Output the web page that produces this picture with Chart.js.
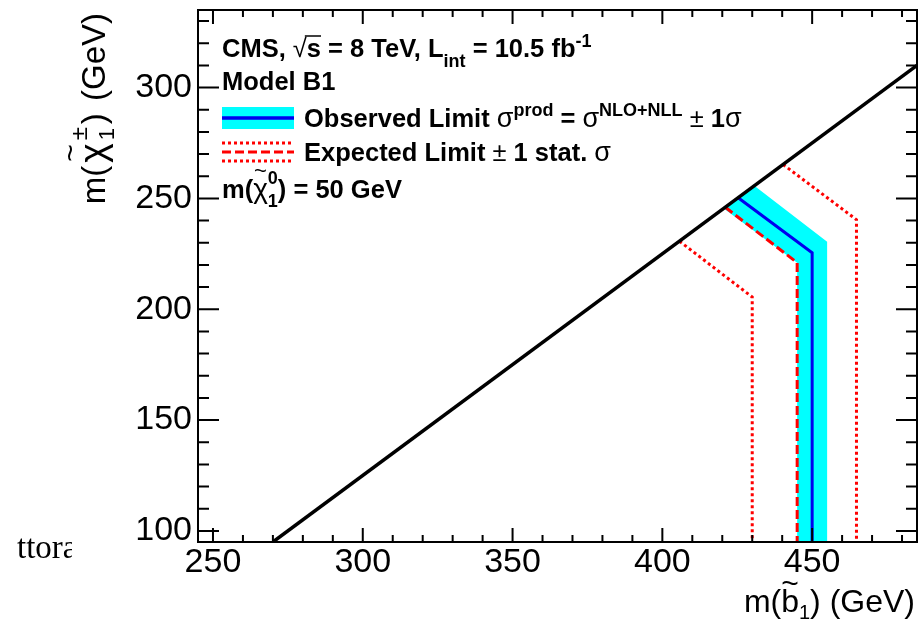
<!DOCTYPE html>
<html>
<head>
<meta charset="utf-8">
<script src="https://cdn.jsdelivr.net/npm/chart.js@4.4.0/dist/chart.umd.min.js"></script>
<style>
  html, body { margin: 0; padding: 0; background: #fff; overflow: hidden; }
</style>
</head>
<body>
<canvas id="c" width="918" height="627"></canvas>
<script>
// axis ranges and tick labels
const xRange = [245, 485];
const yRange = [95, 335];
const xTicks = [250, 300, 350, 400, 450];
const yTicks = [100, 150, 200, 250, 300];

// kinematic limit m(b1) = m(chi1+-) + m(t)
const kinX = [270, 485];
const kinY = [95, 310];
// observed limit
const obsX = [425.3, 450, 450];
const obsY = [250.3, 225.5, 94];
// observed +-1 sigma band (closed outline)
const bandX = [420.5, 445, 445, 455, 455, 430.7];
const bandY = [245.5, 221, 94, 94, 230.5, 255.7];
// expected limit and +-1 stat. sigma
const expX = [421, 445, 445];
const expY = [246, 221, 94];
const expUpX = [440.3, 464.8, 464.8];
const expUpY = [265.3, 240.4, 94];
const expDnX = [405.7, 430, 430];
const expDnY = [230.7, 205.5, 94];

function pts(xs, ys) {
  return xs.map((x, i) => ({x: x, y: ys[i]}));
}

const SANS = "'Liberation Sans', Arial, sans-serif";
const B = (s) => "bold " + s + "px " + SANS;
const R = (s) => s + "px " + SANS;

// draws a list of text pieces, returns the width
function drawRuns(ctx, x, y, runs, dry) {
  let cx = x, held = 0;
  for (const r of runs) {
    ctx.font = r.f;
    const w = ctx.measureText(r.t).width;
    const pad = r.pad || 0;
    if (!dry) {
      ctx.fillText(r.t, cx + pad, y + (r.dy || 0));
      if (r.tilde) {
        ctx.font = R(r.tilde);
        const tw = ctx.measureText("~").width;
        ctx.fillText("~", cx + pad + (w - tw) / 2 + (r.tx || 0), y + (r.ty || 0));
      }
      if (r.bar) {
        ctx.save();
        ctx.lineWidth = 1.5;
        ctx.beginPath();
        ctx.moveTo(cx - 2, y - r.bar);
        ctx.lineTo(cx + w, y - r.bar);
        ctx.stroke();
        ctx.restore();
      }
    }
    if (r.keep) { held = w + pad; continue; }
    cx += Math.max(w + 2 * pad, held);
    held = 0;
  }
  return cx - x;
}

const frame = {
  id: 'frame',
  afterDraw(chart) {
    const {ctx, chartArea: a, scales: {x, y}} = chart;
    ctx.save();
    ctx.strokeStyle = '#000';
    ctx.fillStyle = '#000';
    ctx.lineWidth = 2;
    ctx.strokeRect(a.left, a.top, a.right - a.left, a.bottom - a.top);
    ctx.beginPath();
    for (let v = 250; v < xRange[1]; v += 10) {
      const p = x.getPixelForValue(v);
      const len = v % 50 === 0 ? 14 : 7;
      ctx.moveTo(p, a.bottom); ctx.lineTo(p, a.bottom - len);
      ctx.moveTo(p, a.top); ctx.lineTo(p, a.top + len);
    }
    for (let v = 100; v < yRange[1]; v += 10) {
      const p = y.getPixelForValue(v);
      const len = v % 50 === 0 ? 21 : 11;
      ctx.moveTo(a.left, p); ctx.lineTo(a.left + len, p);
      ctx.moveTo(a.right, p); ctx.lineTo(a.right - len, p);
    }
    ctx.stroke();

    // legend
    ctx.textBaseline = 'alphabetic';
    ctx.textAlign = 'left';
    const fs = 25.5, sm = 18;
    drawRuns(ctx, 222, 57, [
      {t: "CMS, ", f: B(fs)},
      {t: "\u221A", f: R(fs)},
      {t: "s", f: B(fs), bar: 21},
      {t: " = 8 TeV, L", f: B(fs)},
      {t: "int", f: B(sm), dy: 10},
      {t: " = 10.5 fb", f: B(fs)},
      {t: "-1", f: B(sm), dy: -10}
    ]);
    drawRuns(ctx, 222, 90, [{t: "Model B1", f: B(fs)}]);

    ctx.fillStyle = '#00ffff';
    ctx.fillRect(222, 107, 72, 22);
    ctx.strokeStyle = '#0000ee';
    ctx.lineWidth = 3.5;
    ctx.beginPath(); ctx.moveTo(222, 118); ctx.lineTo(294, 118); ctx.stroke();
    ctx.fillStyle = '#000';
    drawRuns(ctx, 304, 127, [
      {t: "Observed Limit ", f: B(fs)},
      {t: "\u03C3", f: R(27)},
      {t: "prod", f: B(sm), dy: -11},
      {t: " = ", f: B(fs)},
      {t: "\u03C3", f: R(27)},
      {t: "NLO+NLL", f: B(sm), dy: -11},
      {t: " \u00B1 ", f: R(fs)},
      {t: "1", f: B(fs)},
      {t: "\u03C3", f: R(27)}
    ]);

    ctx.strokeStyle = '#ff0000';
    ctx.lineWidth = 3;
    ctx.setLineDash([3, 3]);
    ctx.beginPath();
    ctx.moveTo(222, 143); ctx.lineTo(294, 143);
    ctx.moveTo(222, 161); ctx.lineTo(294, 161);
    ctx.stroke();
    ctx.setLineDash([9, 4]);
    ctx.beginPath(); ctx.moveTo(222, 152); ctx.lineTo(294, 152); ctx.stroke();
    ctx.setLineDash([]);
    drawRuns(ctx, 304, 161, [
      {t: "Expected Limit ", f: B(fs)},
      {t: "\u00B1", f: R(fs)},
      {t: " 1 stat. ", f: B(fs)},
      {t: "\u03C3", f: R(27)}
    ]);
    drawRuns(ctx, 222, 198, [
      {t: "m(", f: B(fs)},
      {t: "\u03C7", f: R(28), tilde: 22, ty: -20},
      {t: "0", f: B(sm), dy: -14, keep: true},
      {t: "1", f: B(sm), dy: 9},
      {t: ") = 50 GeV", f: B(fs)}
    ]);

    // axis titles
    const xt = [
      {t: "m(", f: R(32)},
      {t: "b", f: R(32), tilde: 30, ty: -19},
      {t: "1", f: R(20), dy: 7},
      {t: ") (GeV)", f: R(32)}
    ];
    const xw = drawRuns(ctx, 0, 0, xt, true);
    drawRuns(ctx, 915 - xw, 612, xt);

    const yt = [
      {t: "m(", f: R(33)},
      {t: "\u03C7", f: R(37), tilde: 30, ty: -25, pad: 3},
      {t: "\u00B1", f: R(24), dy: -18, keep: true},
      {t: "1", f: R(22), dy: 9},
      {t: ")", f: R(33), pad: 3},
      {t: " (GeV)", f: R(33)}
    ];
    const yw = drawRuns(ctx, 0, 0, yt, true);
    ctx.save();
    ctx.translate(105, 13 + yw);
    ctx.rotate(-Math.PI / 2);
    drawRuns(ctx, 0, 0, yt);
    ctx.restore();

    // stray text at the left edge of the page
    ctx.save();
    ctx.beginPath(); ctx.rect(0, 500, 72, 80); ctx.clip();
    ctx.font = "33px 'Liberation Serif', serif";
    ctx.fillText("ttora", 17, 558);
    ctx.restore();

    ctx.restore();
  }
};

const ctx = document.getElementById('c').getContext('2d');
const chart = new Chart(ctx, {
  type: 'scatter',
  data: {
    datasets: [
      {
        label: 'kinematic limit',
        data: pts(kinX, kinY),
        showLine: true, borderColor: '#000', borderWidth: 3.5,
        pointRadius: 0, order: 0
      },
      {
        label: 'observed',
        data: pts(obsX, obsY),
        showLine: true, borderColor: '#0000ee', borderWidth: 3,
        pointRadius: 0, order: 1
      },
      {
        label: 'expected',
        data: pts(expX, expY),
        showLine: true, borderColor: '#ff0000', borderWidth: 3,
        borderDash: [9, 4], pointRadius: 0, order: 2
      },
      {
        label: 'expected +1 sigma',
        data: pts(expUpX, expUpY),
        showLine: true, borderColor: '#ff0000', borderWidth: 3,
        borderDash: [3, 3], pointRadius: 0, order: 3
      },
      {
        label: 'expected -1 sigma',
        data: pts(expDnX, expDnY),
        showLine: true, borderColor: '#ff0000', borderWidth: 3,
        borderDash: [3, 3], pointRadius: 0, order: 4
      },
      {
        label: 'observed band',
        data: pts(bandX, bandY),
        showLine: true, borderWidth: 0, borderColor: 'rgba(0,0,0,0)',
        backgroundColor: '#00ffff', fill: 'shape',
        pointRadius: 0, order: 5
      }
    ]
  },
  options: {
    responsive: false,
    animation: false,
    layout: { padding: { top: 10, right: 1, left: 0, bottom: 0 } },
    plugins: { legend: { display: false }, tooltip: { enabled: false } },
    scales: {
      x: {
        type: 'linear', min: xRange[0], max: xRange[1],
        afterBuildTicks: (s) => { s.ticks = xTicks.map(v => ({value: v})); },
        afterFit: (s) => { s.height = 85; s.paddingLeft = 0; s.paddingRight = 0; },
        grid: { display: false, drawTicks: false },
        border: { display: false },
        ticks: { color: '#000', padding: 0, font: { family: SANS, size: 34 } }
      },
      y: {
        type: 'linear', min: yRange[0], max: yRange[1],
        afterBuildTicks: (s) => { s.ticks = yTicks.map(v => ({value: v})); },
        afterFit: (s) => { s.width = 198; s.paddingTop = 0; s.paddingBottom = 0; },
        grid: { display: false, drawTicks: false },
        border: { display: false },
        ticks: { color: '#000', padding: 6, font: { family: SANS, size: 34 } }
      }
    }
  },
  plugins: [frame]
});
</script>
</body>
</html>
